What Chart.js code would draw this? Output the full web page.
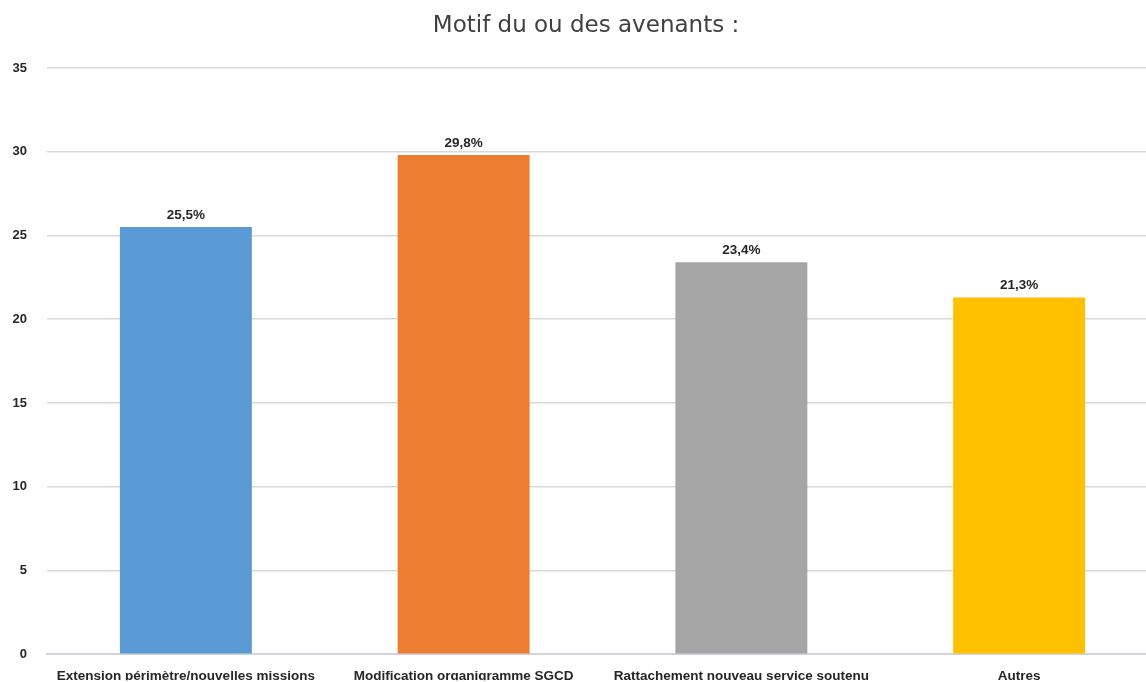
<!DOCTYPE html>
<html><head><meta charset="utf-8">
<script src="https://cdn.jsdelivr.net/npm/chart.js@4.4.0/dist/chart.umd.min.js"></script>
<style>html,body{margin:0;padding:0;overflow:hidden;background:#fff}#w{width:1160px;height:682px;position:relative}</style>
</head><body><div id="w"><canvas id="c"></canvas></div>
<script>
const categories = ["Extension périmètre/nouvelles missions","Modification organigramme SGCD","Rattachement nouveau service soutenu","Autres"];
const values = [25.5, 29.8, 23.4, 21.3];
const valueLabels = ["25,5%","29,8%","23,4%","21,3%"];
const colors = ["#5b9bd5","#ed7d31","#a5a5a5","#ffc000"];
const titleText = "Motif du ou des avenants :";

const titlePlugin = {
  id:'titleP',
  afterDraw(chart){
    const ctx = chart.ctx;
    ctx.save();
    ctx.font = '23px "DejaVu Sans"';
    ctx.fillStyle = '#404040';
    ctx.textAlign = 'center';
    ctx.textBaseline = 'middle';
    ctx.fillText(titleText, 586, 26);
    ctx.restore();
  }
};
const labelPlugin = {
  id:'labelsP',
  afterDatasetsDraw(chart){
    const ctx = chart.ctx;
    const meta = chart.getDatasetMeta(0);
    ctx.save();
    ctx.font = 'bold 13.5px "Liberation Sans"';
    ctx.fillStyle = '#262626';
    ctx.textAlign = 'center';
    ctx.textBaseline = 'bottom';
    meta.data.forEach((b,i)=>{ ctx.fillText(valueLabels[i], b.x, b.y - 5); });
    ctx.restore();
  }
};
new Chart(document.getElementById('c'), {
  type:'bar',
  data:{labels:categories, datasets:[{data:values, backgroundColor:colors, categoryPercentage:1, barPercentage:0.475}]},
  options:{
    responsive:true, maintainAspectRatio:false, animation:false,
    layout:{padding:{top:68,right:2,left:0,bottom:0}},
    plugins:{legend:{display:false}, tooltip:{enabled:false}, title:{display:false}},
    scales:{
      y:{min:0,max:35,ticks:{stepSize:5,color:'#262626',font:{family:'"Liberation Sans"',size:13,weight:'bold'},padding:20},
         grid:{color:'#d9d9d9',lineWidth:1.5,drawTicks:false},border:{display:false},
         afterFit(s){s.width=47;}},
      x:{ticks:{color:'#262626',font:{family:'"Liberation Sans"',size:13.5,weight:'bold'},padding:14,maxRotation:0,autoSkip:false},
         grid:{display:false,drawTicks:false},border:{display:true,color:'#d0d3dc',width:2},
         afterFit(s){s.height=26;}}
    }
  },
  plugins:[titlePlugin,labelPlugin]
});
</script></body></html>
